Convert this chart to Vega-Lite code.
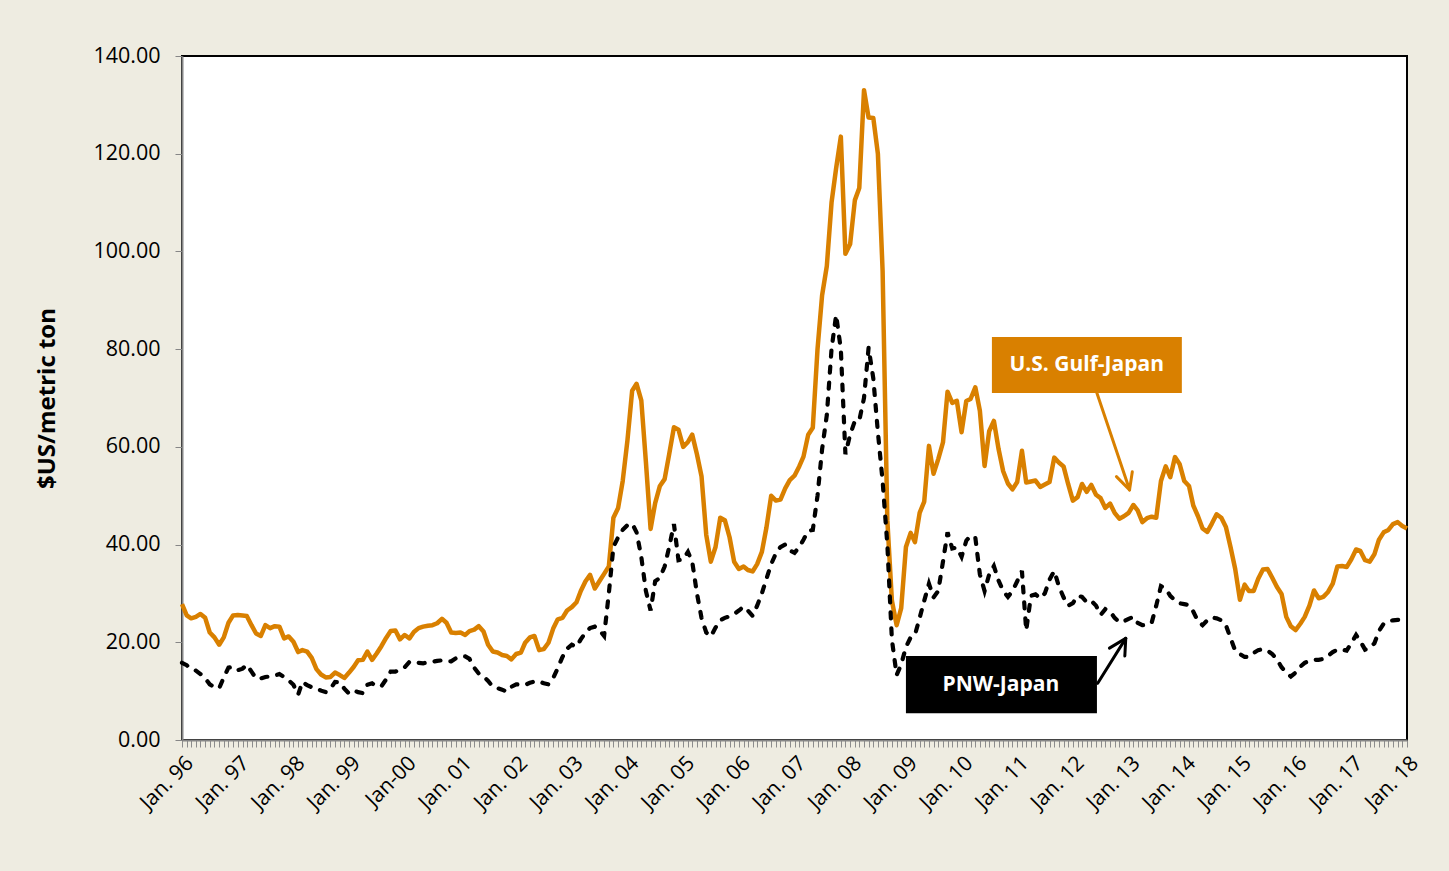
{
  "$schema": "https://vega.github.io/schema/vega-lite/v6.json",
  "width": 1225,
  "height": 684,
  "autosize": {"type": "none"},
  "padding": {"left": 182, "top": 56, "right": 42, "bottom": 131},
  "background": "#EEECE1",
  "config": {
    "view": {"fill": "white", "stroke": "black", "strokeWidth": 2},
    "font": "Open Sans"
  },
  "datasets": {
    "rates": [
      {"date":"1996-01-01","gulf":27.8,"pnw":15.8},{"date":"1996-02-01","gulf":25.5,"pnw":15.3},{"date":"1996-03-01","gulf":24.9,"pnw":14.5},{"date":"1996-04-01","gulf":25.2,"pnw":14.2},{"date":"1996-05-01","gulf":25.8,"pnw":13.5},{"date":"1996-06-01","gulf":25.0,"pnw":12.6},{"date":"1996-07-01","gulf":22.0,"pnw":11.4},{"date":"1996-08-01","gulf":21.0,"pnw":10.8},{"date":"1996-09-01","gulf":19.5,"pnw":10.6},{"date":"1996-10-01","gulf":21.0,"pnw":12.8},{"date":"1996-11-01","gulf":24.0,"pnw":14.8},{"date":"1996-12-01","gulf":25.5,"pnw":15.0},
      {"date":"1997-01-01","gulf":25.6,"pnw":14.3},{"date":"1997-02-01","gulf":25.5,"pnw":14.6},{"date":"1997-03-01","gulf":25.4,"pnw":15.4},{"date":"1997-04-01","gulf":23.5,"pnw":14.0},{"date":"1997-05-01","gulf":21.8,"pnw":12.6},{"date":"1997-06-01","gulf":21.3,"pnw":12.6},{"date":"1997-07-01","gulf":23.5,"pnw":12.9},{"date":"1997-08-01","gulf":22.9,"pnw":13.0},{"date":"1997-09-01","gulf":23.3,"pnw":13.2},{"date":"1997-10-01","gulf":23.2,"pnw":13.5},{"date":"1997-11-01","gulf":20.8,"pnw":12.9},{"date":"1997-12-01","gulf":21.2,"pnw":12.2},
      {"date":"1998-01-01","gulf":20.1,"pnw":11.3},{"date":"1998-02-01","gulf":18.0,"pnw":9.3},{"date":"1998-03-01","gulf":18.4,"pnw":11.9},{"date":"1998-04-01","gulf":18.1,"pnw":11.2},{"date":"1998-05-01","gulf":16.8,"pnw":10.8},{"date":"1998-06-01","gulf":14.5,"pnw":10.6},{"date":"1998-07-01","gulf":13.4,"pnw":10.1},{"date":"1998-08-01","gulf":12.8,"pnw":9.8},{"date":"1998-09-01","gulf":12.9,"pnw":10.5},{"date":"1998-10-01","gulf":13.8,"pnw":11.9},{"date":"1998-11-01","gulf":13.3,"pnw":11.8},{"date":"1998-12-01","gulf":12.7,"pnw":10.5},
      {"date":"1999-01-01","gulf":13.8,"pnw":9.5},{"date":"1999-02-01","gulf":15.0,"pnw":10.1},{"date":"1999-03-01","gulf":16.3,"pnw":9.8},{"date":"1999-04-01","gulf":16.4,"pnw":9.6},{"date":"1999-05-01","gulf":18.1,"pnw":11.3},{"date":"1999-06-01","gulf":16.4,"pnw":11.6},{"date":"1999-07-01","gulf":17.7,"pnw":11.0},{"date":"1999-08-01","gulf":19.2,"pnw":11.0},{"date":"1999-09-01","gulf":20.9,"pnw":12.4},{"date":"1999-10-01","gulf":22.3,"pnw":14.0},{"date":"1999-11-01","gulf":22.4,"pnw":14.0},{"date":"1999-12-01","gulf":20.6,"pnw":14.3},
      {"date":"2000-01-01","gulf":21.5,"pnw":14.9},{"date":"2000-02-01","gulf":20.8,"pnw":16.0},{"date":"2000-03-01","gulf":22.1,"pnw":15.9},{"date":"2000-04-01","gulf":22.9,"pnw":15.8},{"date":"2000-05-01","gulf":23.2,"pnw":15.7},{"date":"2000-06-01","gulf":23.4,"pnw":15.9},{"date":"2000-07-01","gulf":23.5,"pnw":16.0},{"date":"2000-08-01","gulf":23.9,"pnw":16.2},{"date":"2000-09-01","gulf":24.8,"pnw":16.3},{"date":"2000-10-01","gulf":24.0,"pnw":16.1},{"date":"2000-11-01","gulf":22.0,"pnw":16.1},{"date":"2000-12-01","gulf":21.9,"pnw":16.7},
      {"date":"2001-01-01","gulf":22.0,"pnw":17.1},{"date":"2001-02-01","gulf":21.5,"pnw":17.1},{"date":"2001-03-01","gulf":22.3,"pnw":16.6},{"date":"2001-04-01","gulf":22.6,"pnw":14.8},{"date":"2001-05-01","gulf":23.3,"pnw":13.6},{"date":"2001-06-01","gulf":22.2,"pnw":13.0},{"date":"2001-07-01","gulf":19.5,"pnw":12.1},{"date":"2001-08-01","gulf":18.1,"pnw":10.9},{"date":"2001-09-01","gulf":17.9,"pnw":10.6},{"date":"2001-10-01","gulf":17.4,"pnw":10.3},{"date":"2001-11-01","gulf":17.2,"pnw":9.9},{"date":"2001-12-01","gulf":16.5,"pnw":10.9},
      {"date":"2002-01-01","gulf":17.6,"pnw":11.4},{"date":"2002-02-01","gulf":17.9,"pnw":11.3},{"date":"2002-03-01","gulf":19.9,"pnw":11.3},{"date":"2002-04-01","gulf":21.0,"pnw":11.7},{"date":"2002-05-01","gulf":21.3,"pnw":12.0},{"date":"2002-06-01","gulf":18.4,"pnw":12.0},{"date":"2002-07-01","gulf":18.6,"pnw":11.6},{"date":"2002-08-01","gulf":19.9,"pnw":11.4},{"date":"2002-09-01","gulf":22.8,"pnw":12.7},{"date":"2002-10-01","gulf":24.7,"pnw":14.7},{"date":"2002-11-01","gulf":25.0,"pnw":17.0},{"date":"2002-12-01","gulf":26.5,"pnw":18.7},
      {"date":"2003-01-01","gulf":27.2,"pnw":19.5},{"date":"2003-02-01","gulf":28.2,"pnw":19.1},{"date":"2003-03-01","gulf":30.5,"pnw":20.6},{"date":"2003-04-01","gulf":32.5,"pnw":22.0},{"date":"2003-05-01","gulf":33.8,"pnw":22.9},{"date":"2003-06-01","gulf":31.0,"pnw":23.2},{"date":"2003-07-01","gulf":32.5,"pnw":22.5},{"date":"2003-08-01","gulf":34.0,"pnw":21.3},{"date":"2003-09-01","gulf":35.5,"pnw":30.0},{"date":"2003-10-01","gulf":45.5,"pnw":39.5},{"date":"2003-11-01","gulf":47.5,"pnw":41.5},{"date":"2003-12-01","gulf":53.0,"pnw":43.0},
      {"date":"2004-01-01","gulf":61.3,"pnw":44.0},{"date":"2004-02-01","gulf":71.5,"pnw":44.3},{"date":"2004-03-01","gulf":72.9,"pnw":42.5},{"date":"2004-04-01","gulf":69.5,"pnw":37.5},{"date":"2004-05-01","gulf":57.0,"pnw":30.5},{"date":"2004-06-01","gulf":43.2,"pnw":26.5},{"date":"2004-07-01","gulf":48.5,"pnw":32.5},{"date":"2004-08-01","gulf":52.0,"pnw":33.2},{"date":"2004-09-01","gulf":53.4,"pnw":35.5},{"date":"2004-10-01","gulf":58.5,"pnw":39.5},{"date":"2004-11-01","gulf":64.0,"pnw":44.2},{"date":"2004-12-01","gulf":63.5,"pnw":36.8},
      {"date":"2005-01-01","gulf":60.0,"pnw":37.0},{"date":"2005-02-01","gulf":61.0,"pnw":38.5},{"date":"2005-03-01","gulf":62.5,"pnw":36.5},{"date":"2005-04-01","gulf":58.5,"pnw":30.0},{"date":"2005-05-01","gulf":54.0,"pnw":25.0},{"date":"2005-06-01","gulf":42.0,"pnw":22.0},{"date":"2005-07-01","gulf":36.5,"pnw":21.2},{"date":"2005-08-01","gulf":39.5,"pnw":23.0},{"date":"2005-09-01","gulf":45.5,"pnw":24.5},{"date":"2005-10-01","gulf":45.0,"pnw":25.0},{"date":"2005-11-01","gulf":41.5,"pnw":25.3},{"date":"2005-12-01","gulf":36.5,"pnw":25.8},
      {"date":"2006-01-01","gulf":35.0,"pnw":26.5},{"date":"2006-02-01","gulf":35.5,"pnw":27.3},{"date":"2006-03-01","gulf":34.8,"pnw":26.5},{"date":"2006-04-01","gulf":34.5,"pnw":25.4},{"date":"2006-05-01","gulf":36.0,"pnw":27.5},{"date":"2006-06-01","gulf":38.5,"pnw":30.0},{"date":"2006-07-01","gulf":43.5,"pnw":33.0},{"date":"2006-08-01","gulf":50.0,"pnw":36.0},{"date":"2006-09-01","gulf":49.0,"pnw":38.2},{"date":"2006-10-01","gulf":49.2,"pnw":39.5},{"date":"2006-11-01","gulf":51.5,"pnw":40.0},{"date":"2006-12-01","gulf":53.2,"pnw":38.8},
      {"date":"2007-01-01","gulf":54.1,"pnw":38.3},{"date":"2007-02-01","gulf":56.0,"pnw":39.5},{"date":"2007-03-01","gulf":58.0,"pnw":41.0},{"date":"2007-04-01","gulf":62.5,"pnw":42.8},{"date":"2007-05-01","gulf":63.9,"pnw":43.0},{"date":"2007-06-01","gulf":80.0,"pnw":50.0},{"date":"2007-07-01","gulf":91.0,"pnw":59.5},{"date":"2007-08-01","gulf":97.0,"pnw":66.5},{"date":"2007-09-01","gulf":110.0,"pnw":80.0},{"date":"2007-10-01","gulf":117.0,"pnw":87.0},{"date":"2007-11-01","gulf":123.5,"pnw":80.0},{"date":"2007-12-01","gulf":99.5,"pnw":58.5},
      {"date":"2008-01-01","gulf":101.5,"pnw":62.5},{"date":"2008-02-01","gulf":110.5,"pnw":65.3},{"date":"2008-03-01","gulf":113.0,"pnw":65.4},{"date":"2008-04-01","gulf":133.0,"pnw":70.0},{"date":"2008-05-01","gulf":127.4,"pnw":80.3},{"date":"2008-06-01","gulf":127.3,"pnw":74.0},{"date":"2008-07-01","gulf":120.0,"pnw":63.0},{"date":"2008-08-01","gulf":96.0,"pnw":53.0},{"date":"2008-09-01","gulf":45.0,"pnw":40.0},{"date":"2008-10-01","gulf":28.5,"pnw":20.5},{"date":"2008-11-01","gulf":23.5,"pnw":13.3},{"date":"2008-12-01","gulf":27.0,"pnw":15.5},
      {"date":"2009-01-01","gulf":39.5,"pnw":19.0},{"date":"2009-02-01","gulf":42.4,"pnw":21.0},{"date":"2009-03-01","gulf":40.5,"pnw":21.5},{"date":"2009-04-01","gulf":46.5,"pnw":25.0},{"date":"2009-05-01","gulf":48.8,"pnw":28.5},{"date":"2009-06-01","gulf":60.2,"pnw":32.0},{"date":"2009-07-01","gulf":54.5,"pnw":29.2},{"date":"2009-08-01","gulf":57.5,"pnw":30.5},{"date":"2009-09-01","gulf":60.9,"pnw":36.5},{"date":"2009-10-01","gulf":71.3,"pnw":42.5},{"date":"2009-11-01","gulf":69.0,"pnw":39.2},{"date":"2009-12-01","gulf":69.4,"pnw":39.4},
      {"date":"2010-01-01","gulf":63.0,"pnw":37.5},{"date":"2010-02-01","gulf":69.4,"pnw":40.8},{"date":"2010-03-01","gulf":69.8,"pnw":41.8},{"date":"2010-04-01","gulf":72.2,"pnw":41.5},{"date":"2010-05-01","gulf":67.4,"pnw":33.9},{"date":"2010-06-01","gulf":56.1,"pnw":30.5},{"date":"2010-07-01","gulf":63.2,"pnw":33.9},{"date":"2010-08-01","gulf":65.3,"pnw":35.6},{"date":"2010-09-01","gulf":59.5,"pnw":32.6},{"date":"2010-10-01","gulf":55.0,"pnw":30.5},{"date":"2010-11-01","gulf":52.5,"pnw":29.3},{"date":"2010-12-01","gulf":51.3,"pnw":30.5},
      {"date":"2011-01-01","gulf":52.8,"pnw":32.5},{"date":"2011-02-01","gulf":59.2,"pnw":34.6},{"date":"2011-03-01","gulf":52.7,"pnw":22.4},{"date":"2011-04-01","gulf":52.9,"pnw":29.5},{"date":"2011-05-01","gulf":53.1,"pnw":29.8},{"date":"2011-06-01","gulf":51.8,"pnw":29.0},{"date":"2011-07-01","gulf":52.3,"pnw":30.0},{"date":"2011-08-01","gulf":52.8,"pnw":32.8},{"date":"2011-09-01","gulf":57.8,"pnw":34.6},{"date":"2011-10-01","gulf":56.8,"pnw":31.5},{"date":"2011-11-01","gulf":56.0,"pnw":29.2},{"date":"2011-12-01","gulf":52.4,"pnw":27.5},
      {"date":"2012-01-01","gulf":49.0,"pnw":28.0},{"date":"2012-02-01","gulf":49.7,"pnw":29.5},{"date":"2012-03-01","gulf":52.4,"pnw":29.3},{"date":"2012-04-01","gulf":50.8,"pnw":28.2},{"date":"2012-05-01","gulf":52.2,"pnw":28.5},{"date":"2012-06-01","gulf":50.2,"pnw":27.5},{"date":"2012-07-01","gulf":49.5,"pnw":25.6},{"date":"2012-08-01","gulf":47.5,"pnw":26.8},{"date":"2012-09-01","gulf":48.4,"pnw":26.3},{"date":"2012-10-01","gulf":46.5,"pnw":25.0},{"date":"2012-11-01","gulf":45.3,"pnw":24.1},{"date":"2012-12-01","gulf":45.8,"pnw":24.3},
      {"date":"2013-01-01","gulf":46.5,"pnw":24.8},{"date":"2013-02-01","gulf":48.1,"pnw":25.2},{"date":"2013-03-01","gulf":47.0,"pnw":24.0},{"date":"2013-04-01","gulf":44.6,"pnw":23.5},{"date":"2013-05-01","gulf":45.4,"pnw":23.5},{"date":"2013-06-01","gulf":45.7,"pnw":24.0},{"date":"2013-07-01","gulf":45.5,"pnw":27.5},{"date":"2013-08-01","gulf":53.0,"pnw":31.5},{"date":"2013-09-01","gulf":56.0,"pnw":31.0},{"date":"2013-10-01","gulf":53.8,"pnw":29.5},{"date":"2013-11-01","gulf":57.9,"pnw":28.6},{"date":"2013-12-01","gulf":56.5,"pnw":28.0},
      {"date":"2014-01-01","gulf":53.0,"pnw":27.8},{"date":"2014-02-01","gulf":52.0,"pnw":27.6},{"date":"2014-03-01","gulf":48.0,"pnw":26.3},{"date":"2014-04-01","gulf":45.8,"pnw":24.3},{"date":"2014-05-01","gulf":43.3,"pnw":23.5},{"date":"2014-06-01","gulf":42.6,"pnw":24.5},{"date":"2014-07-01","gulf":44.3,"pnw":25.1},{"date":"2014-08-01","gulf":46.2,"pnw":24.9},{"date":"2014-09-01","gulf":45.5,"pnw":24.5},{"date":"2014-10-01","gulf":43.6,"pnw":23.5},{"date":"2014-11-01","gulf":39.4,"pnw":20.8},{"date":"2014-12-01","gulf":35.0,"pnw":18.3},
      {"date":"2015-01-01","gulf":28.7,"pnw":17.6},{"date":"2015-02-01","gulf":31.8,"pnw":17.0},{"date":"2015-03-01","gulf":30.5,"pnw":17.0},{"date":"2015-04-01","gulf":30.5,"pnw":17.8},{"date":"2015-05-01","gulf":33.0,"pnw":18.4},{"date":"2015-06-01","gulf":34.9,"pnw":18.6},{"date":"2015-07-01","gulf":35.0,"pnw":18.3},{"date":"2015-08-01","gulf":33.2,"pnw":17.6},{"date":"2015-09-01","gulf":31.3,"pnw":16.5},{"date":"2015-10-01","gulf":29.9,"pnw":14.9},{"date":"2015-11-01","gulf":25.2,"pnw":13.8},{"date":"2015-12-01","gulf":23.3,"pnw":13.0},
      {"date":"2016-01-01","gulf":22.5,"pnw":13.8},{"date":"2016-02-01","gulf":23.8,"pnw":15.0},{"date":"2016-03-01","gulf":25.2,"pnw":15.8},{"date":"2016-04-01","gulf":27.5,"pnw":16.2},{"date":"2016-05-01","gulf":30.6,"pnw":16.4},{"date":"2016-06-01","gulf":29.0,"pnw":16.4},{"date":"2016-07-01","gulf":29.3,"pnw":16.6},{"date":"2016-08-01","gulf":30.3,"pnw":17.2},{"date":"2016-09-01","gulf":32.0,"pnw":18.0},{"date":"2016-10-01","gulf":35.5,"pnw":18.5},{"date":"2016-11-01","gulf":35.6,"pnw":18.5},{"date":"2016-12-01","gulf":35.4,"pnw":18.3},
      {"date":"2017-01-01","gulf":37.0,"pnw":19.8},{"date":"2017-02-01","gulf":39.0,"pnw":21.5},{"date":"2017-03-01","gulf":38.7,"pnw":20.2},{"date":"2017-04-01","gulf":36.8,"pnw":18.5},{"date":"2017-05-01","gulf":36.5,"pnw":18.8},{"date":"2017-06-01","gulf":38.0,"pnw":19.8},{"date":"2017-07-01","gulf":41.0,"pnw":22.3},{"date":"2017-08-01","gulf":42.5,"pnw":23.8},{"date":"2017-09-01","gulf":43.0,"pnw":24.3},{"date":"2017-10-01","gulf":44.2,"pnw":24.5},{"date":"2017-11-01","gulf":44.6,"pnw":24.6},{"date":"2017-12-01","gulf":43.8,"pnw":24.5},
      {"date":"2018-01-01","gulf":43.3,"pnw":24.4}
    ],
    "boxes": [
      {"route":"U.S. Gulf-Japan","start":"2010-07-19","end":"2013-12-16","top":82.5,"bottom":71.0,"mid":"2012-04-01","middle":76.7},
      {"route":"PNW-Japan","start":"2009-01-01","end":"2012-06-07","top":17.2,"bottom":5.5,"mid":"2010-09-16","middle":11.3}
    ],
    "arrows": [
      {"route":"U.S. Gulf-Japan","from":"2012-06-04","fromv":71.3,"to":"2013-01-07","tov":51.2},
      {"route":"U.S. Gulf-Japan","from":"2012-10-13","fromv":53.9,"to":"2013-01-07","tov":51.2},
      {"route":"U.S. Gulf-Japan","from":"2013-01-25","fromv":54.9,"to":"2013-01-07","tov":51.2},
      {"route":"PNW-Japan","from":"2012-06-12","fromv":11.6,"to":"2012-12-13","tov":20.8},
      {"route":"PNW-Japan","from":"2012-08-28","fromv":18.8,"to":"2012-12-13","tov":20.8},
      {"route":"PNW-Japan","from":"2012-12-07","fromv":17.2,"to":"2012-12-13","tov":20.8}
    ]
  },
  "layer": [
    {
      "data": {"name": "rates"},
      "mark": {"type": "line", "color": "#D98000", "strokeWidth": 4.5, "strokeJoin": "round"},
      "encoding": {
        "x": {
          "field": "date", "type": "temporal",
          "scale": {"type": "utc", "domain": [{"year": 1996, "month": 1, "date": 1, "utc": true}, {"year": 2018, "month": 1, "date": 1, "utc": true}]},
          "axis": {
            "title": null,
            "grid": false,
            "tickCount": {"interval": "month", "step": 1},
            "labelExpr": "utcmonth(datum.value) == 0 ? (utcyear(datum.value) == 2000 ? 'Jan-00' : 'Jan. ' + utcFormat(datum.value, '%y')) : ''",
            "labelAngle": -45,
            "labelAlign": "right",
            "labelBaseline": "top",
            "labelFontSize": 21,
            "labelColor": "black",
            "labelOverlap": false,
            "labelFlush": false,
            "labelBound": false,
            "labelPadding": 5,
            "tickSize": 7,
            "tickColor": "#8C8C8C",
            "tickWidth": 1,
            "domainColor": "#868686",
            "domainWidth": 2
          }
        },
        "y": {
          "field": "gulf", "type": "quantitative",
          "scale": {"domain": [0, 140], "nice": false},
          "axis": {
            "title": "$US/metric ton",
            "grid": false,
            "values": [0, 20, 40, 60, 80, 100, 120, 140],
            "format": ".2f",
            "labelFontSize": 21.5,
            "labelColor": "black",
            "labelPadding": 15,
            "tickSize": 7,
            "tickColor": "#868686",
            "domainColor": "#868686",
            "domainWidth": 2,
            "titleFontSize": 24,
            "titleFontWeight": "bold",
            "titleColor": "black",
            "titlePadding": 33
          }
        }
      }
    },
    {
      "data": {"name": "rates"},
      "mark": {"type": "line", "color": "black", "strokeWidth": 4.2, "strokeDash": [6, 10], "strokeCap": "round"},
      "encoding": {
        "x": {"field": "date", "type": "temporal"},
        "y": {"field": "pnw", "type": "quantitative"}
      }
    },
    {
      "data": {"name": "boxes"},
      "mark": {"type": "rect"},
      "encoding": {
        "x": {"field": "start", "type": "temporal"},
        "x2": {"field": "end"},
        "y": {"field": "top", "type": "quantitative"},
        "y2": {"field": "bottom"},
        "color": {"field": "route", "type": "nominal", "scale": {"domain": ["U.S. Gulf-Japan", "PNW-Japan"], "range": ["#D98000", "black"]}, "legend": null}
      }
    },
    {
      "data": {"name": "boxes"},
      "mark": {"type": "text", "color": "white", "fontWeight": "bold", "fontSize": 21, "align": "center", "baseline": "middle"},
      "encoding": {
        "x": {"field": "mid", "type": "temporal"},
        "y": {"field": "middle", "type": "quantitative"},
        "text": {"field": "route"}
      }
    },
    {
      "data": {"name": "arrows"},
      "mark": {"type": "rule", "strokeWidth": 3, "strokeCap": "round"},
      "encoding": {
        "x": {"field": "from", "type": "temporal"},
        "x2": {"field": "to"},
        "y": {"field": "fromv", "type": "quantitative"},
        "y2": {"field": "tov"},
        "color": {"field": "route", "type": "nominal", "legend": null}
      }
    }
  ]
}
